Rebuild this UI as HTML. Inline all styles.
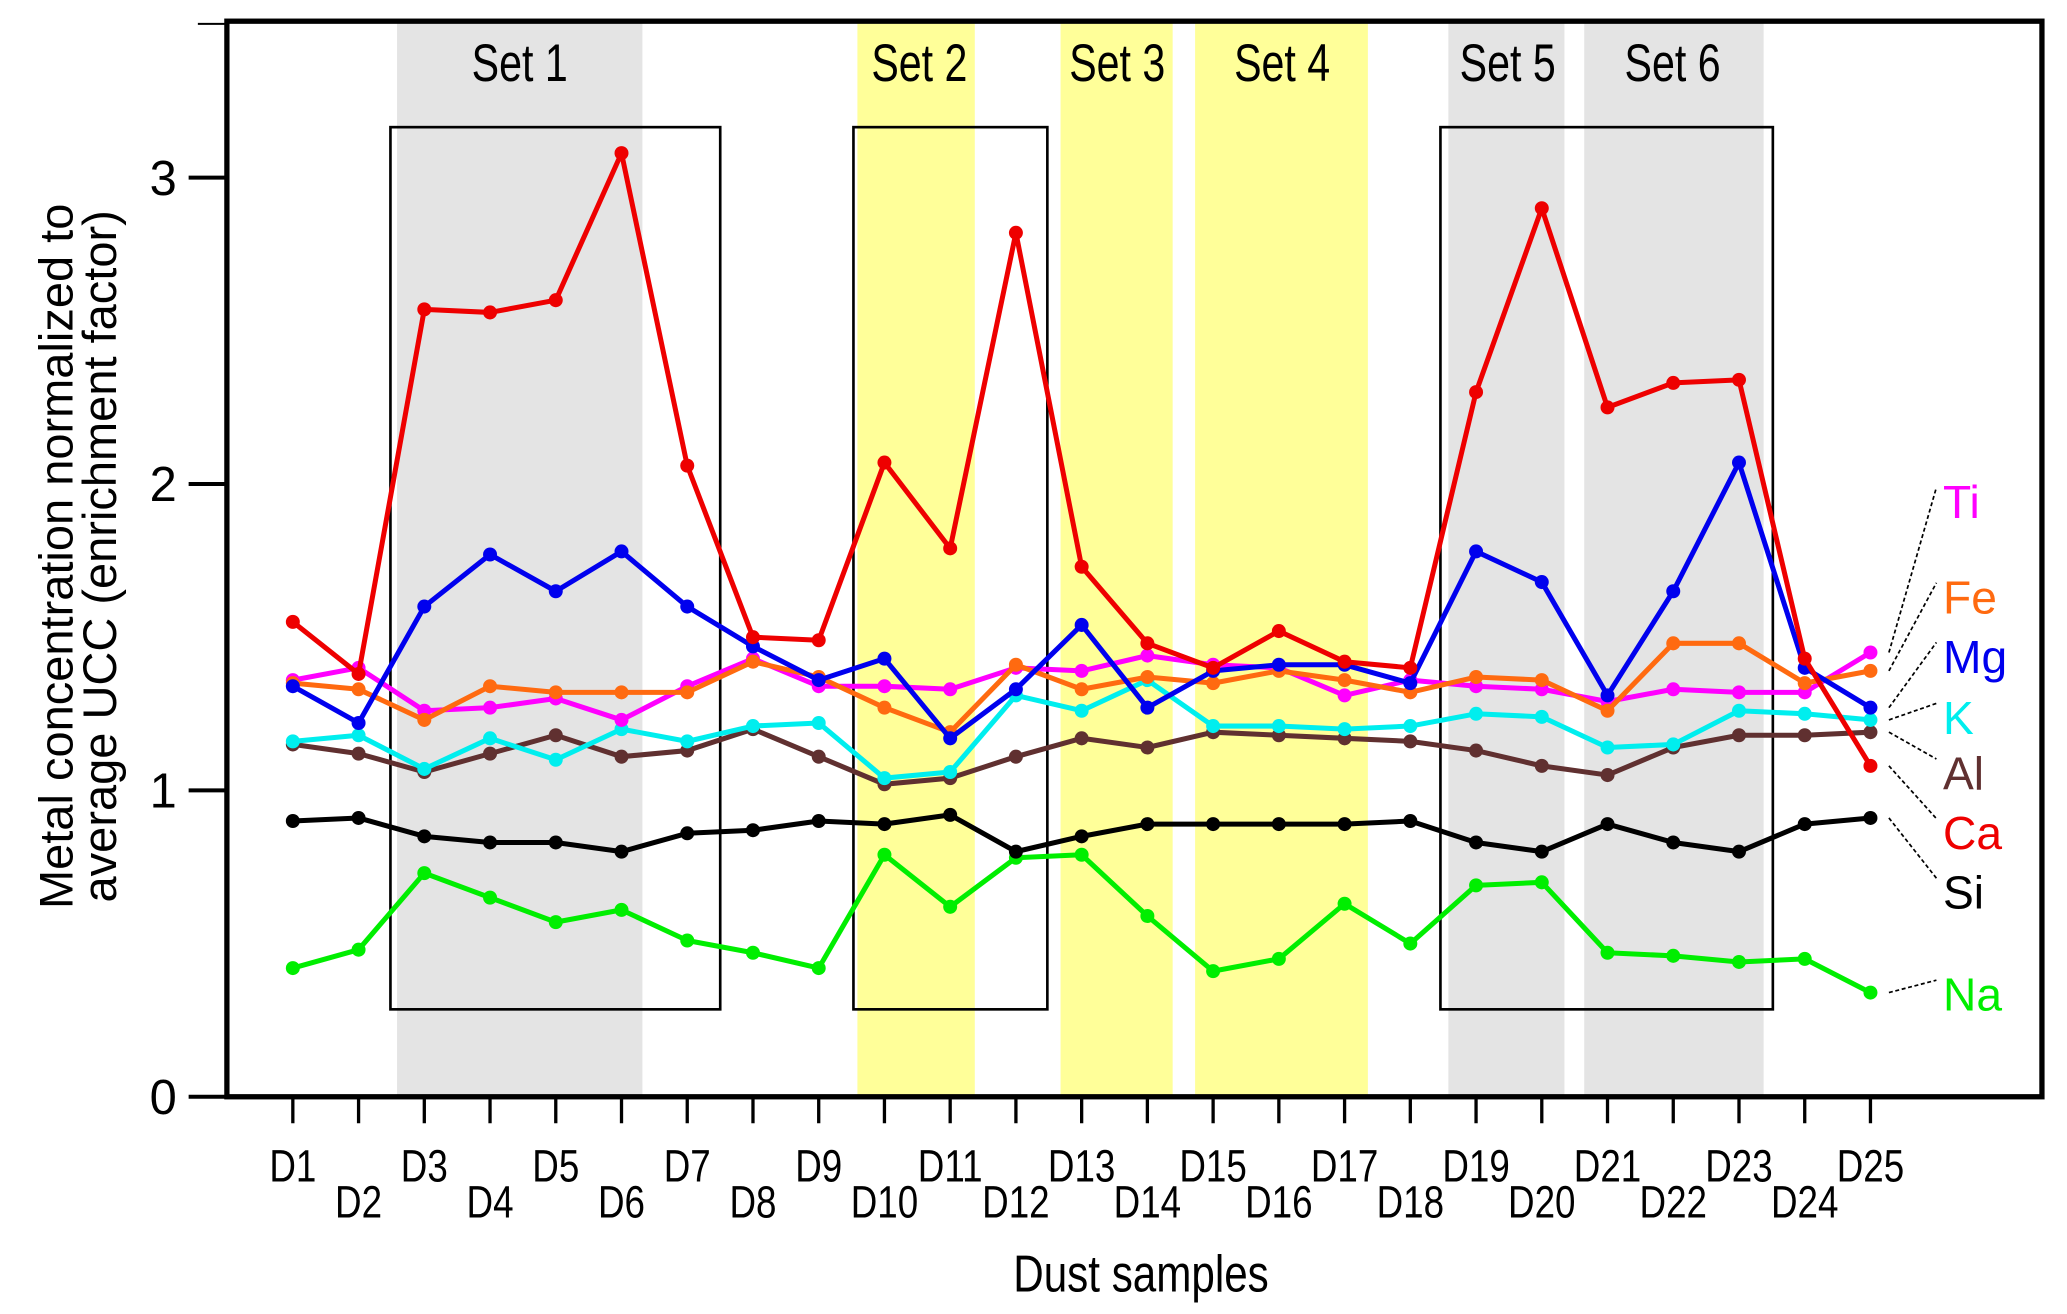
<!DOCTYPE html>
<html><head><meta charset="utf-8"><style>
html,body{margin:0;padding:0;background:#fff;}
svg{display:block;font-family:"Liberation Sans",sans-serif;}
</style></head><body>
<svg id="chart" width="2067" height="1314" viewBox="0 0 1567 992" preserveAspectRatio="none" xmlns="http://www.w3.org/2000/svg">
<g id="bands"></g>
<g id="boxes"></g>
<g id="axes"></g>
<g id="series"></g>
<g id="labels"></g>
</svg>
<script>
const categories = ["D1","D2","D3","D4","D5","D6","D7","D8","D9","D10","D11","D12","D13","D14","D15","D16","D17","D18","D19","D20","D21","D22","D23","D24","D25"];
const yTicks = [0,1,2,3];
const seriesNames = ["Na","Si","Al","K","Ti","Fe","Mg","Ca"];
const seriesColors = ["#00ee00","#000000","#603030","#00eeee","#ff00ff","#ff6a10","#0000ee","#ee0000"];
const Na = [0.42,0.48,0.73,0.65,0.57,0.61,0.51,0.47,0.42,0.79,0.62,0.78,0.79,0.59,0.41,0.45,0.63,0.50,0.69,0.70,0.47,0.46,0.44,0.45,0.34];
const Si = [0.90,0.91,0.85,0.83,0.83,0.80,0.86,0.87,0.90,0.89,0.92,0.80,0.85,0.89,0.89,0.89,0.89,0.90,0.83,0.80,0.89,0.83,0.80,0.89,0.91];
const Al = [1.15,1.12,1.06,1.12,1.18,1.11,1.13,1.20,1.11,1.02,1.04,1.11,1.17,1.14,1.19,1.18,1.17,1.16,1.13,1.08,1.05,1.14,1.18,1.18,1.19];
const K  = [1.16,1.18,1.07,1.17,1.10,1.20,1.16,1.21,1.22,1.04,1.06,1.31,1.26,1.36,1.21,1.21,1.20,1.21,1.25,1.24,1.14,1.15,1.26,1.25,1.23];
const Ti = [1.36,1.40,1.26,1.27,1.30,1.23,1.34,1.43,1.34,1.34,1.33,1.40,1.39,1.44,1.41,1.40,1.31,1.36,1.34,1.33,1.29,1.33,1.32,1.32,1.45];
const Fe = [1.35,1.33,1.23,1.34,1.32,1.32,1.32,1.42,1.37,1.27,1.19,1.41,1.33,1.37,1.35,1.39,1.36,1.32,1.37,1.36,1.26,1.48,1.48,1.35,1.39];
const Mg = [1.34,1.22,1.60,1.77,1.65,1.78,1.60,1.47,1.36,1.43,1.17,1.33,1.54,1.27,1.39,1.41,1.41,1.35,1.78,1.68,1.31,1.65,2.07,1.40,1.27];
const Ca = [1.55,1.38,2.57,2.56,2.60,3.08,2.06,1.50,1.49,2.07,1.79,2.82,1.73,1.48,1.40,1.52,1.42,1.40,2.30,2.90,2.25,2.33,2.34,1.43,1.08];
const seriesData = [Na,Si,Al,K,Ti,Fe,Mg,Ca];
const labelY = {Ti:378,Fe:450,Mg:495,K:541,Al:583,Ca:628,Si:673,Na:750};

const NS="http://www.w3.org/2000/svg";
const X0=222, XSTEP=(1418-222)/24, Y0=828, YU=231.3;
const xs=i=>X0+i*XSTEP, ys=v=>Y0-v*YU;
function mk(tag,attrs,parent,text){const e=document.createElementNS(NS,tag);for(const k in attrs)e.setAttribute(k,attrs[k]);if(text!==undefined)e.textContent=text;document.getElementById(parent).appendChild(e);return e;}

const bands=[[301,487,"#e4e4e4","Set 1",394],[650,739,"#ffff99","Set 2",697],[804,889,"#ffff99","Set 3",847],[906,1037,"#ffff99","Set 4",972],[1098,1186,"#e4e4e4","Set 5",1143],[1201,1337,"#e4e4e4","Set 6",1268]];
bands.forEach(b=>{
 const r=mk("rect",{x:b[0],y:16,width:b[1]-b[0],height:812,fill:b[2]},"bands");
 
 
 const t=mk("text",{x:b[4],y:61,"font-size":40,"text-anchor":"middle",transform:`translate(${b[4]},0) scale(0.78,1) translate(${-b[4]},0)`},"labels",b[3]);
 
 
});
[[296,546],[647,794],[1092,1344]].forEach(b=>{
 const r=mk("rect",{x:b[0],y:96,width:b[1]-b[0],height:666,fill:"none",stroke:"#000","stroke-width":2},"boxes");
 
 
});
let f=mk("rect",{x:172,y:16,width:1376,height:812,fill:"none",stroke:"#000","stroke-width":4},"axes");


mk("line",{x1:150,y1:18,x2:172,y2:18,stroke:"#000","stroke-width":1.5},"axes");
yTicks.forEach(v=>{
 mk("line",{x1:143,y1:ys(v),x2:172,y2:ys(v),stroke:"#000","stroke-width":3},"axes");
 const t=mk("text",{x:134,y:ys(v)+13,"font-size":37,"text-anchor":"end"},"axes",String(v));
 
 
});
categories.forEach((c,i)=>{
 mk("line",{x1:xs(i),y1:828,x2:xs(i),y2:848,stroke:"#000","stroke-width":2.5},"axes");
 const y=i%2===0?892:919, x=xs(i);
 const t=mk("text",{x:x,y:y,"font-size":34,"text-anchor":"middle",transform:`translate(${x},0) scale(0.82,1) translate(${-x},0)`},"axes",c);
 
 
});
let xt=mk("text",{x:865,y:975,"font-size":39,"text-anchor":"middle",transform:"translate(865,0) scale(0.82,1) translate(-865,0)"},"axes","Dust samples");


let yt=mk("text",{x:0,y:0,"font-size":35.5,"text-anchor":"middle",transform:"translate(55,420) rotate(-90)"},"axes","Metal concentration normalized to");


let yt2=mk("text",{x:0,y:0,"font-size":35.5,"text-anchor":"middle",transform:"translate(88,420) rotate(-90)"},"axes","average UCC (enrichment factor)");



seriesNames.forEach((n,si)=>{
 const d=seriesData[si], col=seriesColors[si];
 const p=mk("polyline",{points:d.map((v,i)=>xs(i)+","+ys(v)).join(" "),fill:"none",stroke:col,"stroke-width":3.8,"stroke-linejoin":"round"},"series");
 
 
 d.forEach((v,i)=>{
  const c=mk("circle",{cx:xs(i),cy:ys(v),r:5.3,fill:col},"series");
  
  
 });
 const ly=labelY[n], lastY=ys(d[d.length-1]);
 mk("line",{x1:1432,y1:lastY,x2:1468,y2:ly-10,stroke:"#000","stroke-width":1.3,"stroke-dasharray":"3,2"},"labels");
 const t=mk("text",{x:1473,y:ly+13,"font-size":35,fill:col},"labels",n);
 
 
});
</script>
</body></html>
